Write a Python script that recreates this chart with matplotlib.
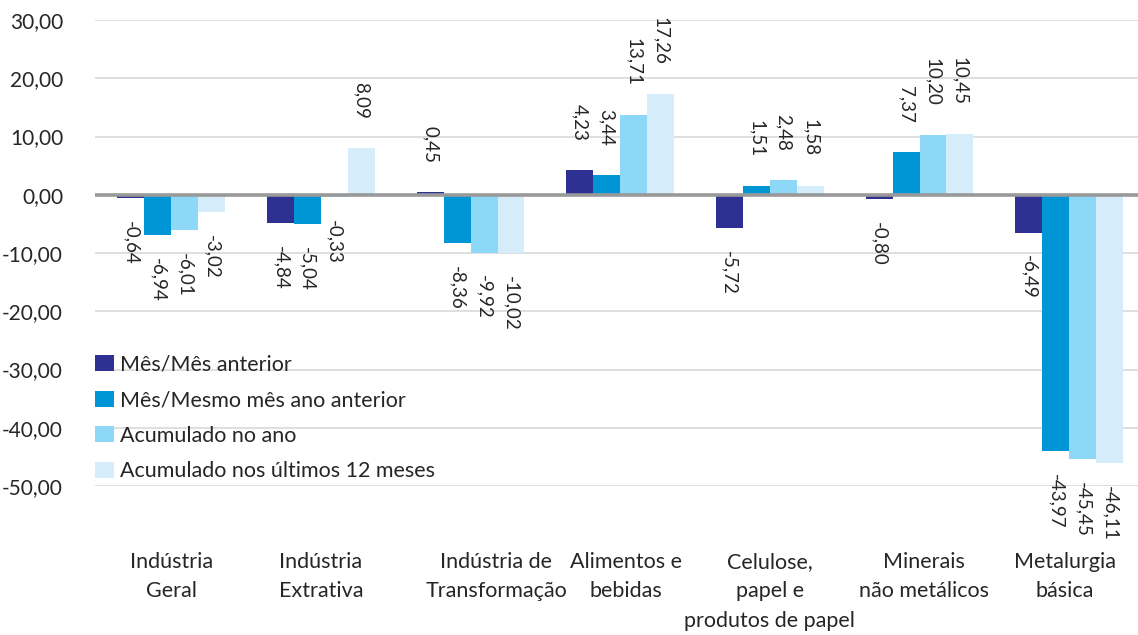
import numpy as np
import matplotlib
matplotlib.use("Agg")
import matplotlib.pyplot as plt

plt.rcParams['font.family'] = ['Lato', 'DejaVu Sans']

categories = ["Indústria\nGeral", "Indústria\nExtrativa", "Indústria de\nTransformação",
              "Alimentos e\nbebidas", "Celulose,\npapel e\nprodutos de papel",
              "Minerais\nnão metálicos", "Metalurgia\nbásica"]
series_names = ["Mês/Mês anterior", "Mês/Mesmo mês ano anterior",
                "Acumulado no ano", "Acumulado nos últimos 12 meses"]
mes_anterior = [-0.64, -4.84, 0.45, 4.23, -5.72, -0.80, -6.49]
mesmo_mes = [-6.94, -5.04, -8.36, 3.44, 1.51, 7.37, -43.97]
acum_ano = [-6.01, -0.33, -9.92, 13.71, 2.48, 10.20, -45.45]
acum_12m = [-3.02, 8.09, -10.02, 17.26, 1.58, 10.45, -46.11]
series = [mes_anterior, mesmo_mes, acum_ano, acum_12m]
colors = ["#2E3192", "#0096D6", "#8DD7F7", "#D5EDFA"]
text_color = "#262626"

fig = plt.figure(figsize=(11.38, 6.35), dpi=100)
ax = fig.add_axes([95 / 1138, 1 - 486 / 635, 1 - 95 / 1138, (486 - 20) / 635])

x = np.arange(len(categories))
width = 0.18
offsets = [-1.5 * width, -0.5 * width, 0.5 * width, 1.5 * width]

for vals, off, col, name in zip(series, offsets, colors, series_names):
    bars = ax.bar(x + off, vals, width, color=col, label=name, zorder=2)
    for b, v in zip(bars, vals):
        lab = f"{v:.2f}".replace(".", ",")
        if v >= 0:
            ax.annotate(lab, (b.get_x() + b.get_width() / 2, v), xytext=(0, 21),
                        textcoords="offset points", rotation=-90, ha="center", va="bottom",
                        fontsize=13.5, color=text_color)
        else:
            ax.annotate(lab, (b.get_x() + b.get_width() / 2, v), xytext=(0, -16.5),
                        textcoords="offset points", rotation=-90, ha="center", va="top",
                        fontsize=13.5, color=text_color)

ax.axhline(0, color="#999999", lw=2.6, zorder=3)
ax.set_ylim(-50, 30)
ax.set_xlim(-0.51, 6.46)
ticks = np.arange(-50, 31, 10)
ax.set_yticks(ticks)
ax.set_yticklabels([f"{t:.2f}".replace(".", ",") for t in ticks],
                   fontsize=15, color=text_color)
ax.yaxis.grid(True, color="#D9D9D9", lw=1.2, zorder=0)
ax.set_axisbelow(True)
ax.tick_params(axis="y", length=0, pad=23)
ax.set_xticks([])
for s in ax.spines.values():
    s.set_visible(False)

# category labels under the plot, Excel nudges some of them sideways
nudges = [0, 0, 0.17, 0.04, 0, 0.03, -0.03]
for xi, cat, dx in zip(x, categories, nudges):
    ax.text(xi + dx, -61.3, cat, ha="center", va="top", fontsize=15.5,
            color=text_color, linespacing=1.6, clip_on=False)

leg = ax.legend(loc="upper left", bbox_to_anchor=(-0.008, 0.30), frameon=False,
                fontsize=15.5, handlelength=0.85, handleheight=0.78, handletextpad=0.3,
                labelspacing=0.72, borderaxespad=0)
for t in leg.get_texts():
    t.set_color(text_color)

fig.savefig("out.png", dpi=100)
